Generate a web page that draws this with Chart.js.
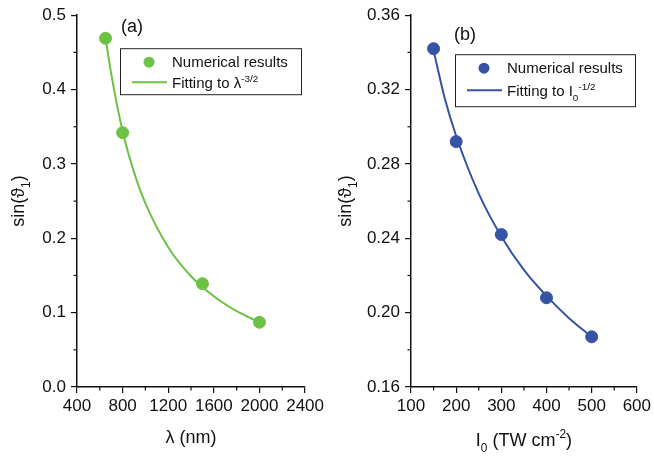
<!DOCTYPE html>
<html>
<head>
<meta charset="utf-8">
<script src="https://cdn.jsdelivr.net/npm/chart.js@4.4.1/dist/chart.umd.min.js"></script>
<style>
    body { margin: 0; background: #fff; }
    #wrap { position: relative; width: 654px; height: 459px; }
    canvas { position: absolute; top: 0; }
    #chartA { left: 0; }
    #chartB { left: 327px; }
</style>
</head>
<body>
<div id="wrap">
    <canvas id="chartA" width="327" height="459"></canvas>
    <canvas id="chartB" width="327" height="459"></canvas>
</div>
<script>
/**=================
 * Data
 =================*/
// panel (a): wavelength scan
const lambdaNm = [650, 800, 1500, 2000];
const sinThetaA = [0.469, 0.342, 0.139, 0.087];
const fitLambda = [650, 700, 800, 900, 1000, 1200, 1400, 1600, 1800, 2000];
const fitSinA = [0.470, 0.421, 0.344, 0.289, 0.247, 0.188, 0.149, 0.122, 0.102, 0.087];

// panel (b): intensity scan
const intensityTW = [150, 200, 300, 400, 500];
const sinThetaB = [0.342, 0.292, 0.242, 0.208, 0.187];
const fitIntensity = [150, 175, 200, 250, 300, 350, 400, 450, 500];
const fitSinB = [0.341, 0.315, 0.295, 0.264, 0.241, 0.223, 0.209, 0.197, 0.187];

const GREEN = '#6cc244';
const BLUE = '#3753a6';
const INK = '#111';
const FONT = '"Liberation Sans", Arial, "DejaVu Sans", sans-serif';

/**=================
 * Rich text helper (sub / superscripts)
 =================*/
function drawRich(ctx, parts, x, y, size, align) {
    const fontFor = mode => (mode ? size * 0.66 : size) + 'px ' + FONT;
    let total = 0;
    parts.forEach(([t, mode]) => {
        ctx.font = fontFor(mode);
        total += ctx.measureText(t).width;
    });
    let cx = align === 'center' ? x - total / 2 : x;
    ctx.textAlign = 'left';
    ctx.textBaseline = 'alphabetic';
    parts.forEach(([t, mode]) => {
        ctx.font = fontFor(mode);
        let dy = 0;
        if (mode === 'sub') dy = size * 0.32;
        if (mode === 'sup') dy = -size * 0.42;
        ctx.fillText(t, cx, y + dy);
        cx += ctx.measureText(t).width;
    });
}

/**=================
 * Decorations plugin: titles, panel label, legend box, minor ticks
 =================*/
const decorPlugin = {
    id: 'decor',
    afterDraw(chart, args, o) {
        const { ctx, chartArea: a, scales } = chart;
        ctx.save();
        ctx.fillStyle = INK;
        ctx.strokeStyle = INK;

        // minor ticks
        ctx.lineWidth = 1.2;
        const xs = scales.x, ys = scales.y;
        for (let i = 0; i < xs.ticks.length - 1; i++) {
            const px = xs.getPixelForValue((xs.ticks[i].value + xs.ticks[i + 1].value) / 2);
            ctx.beginPath();
            ctx.moveTo(px, xs.top);
            ctx.lineTo(px, xs.top + 3.5);
            ctx.stroke();
        }
        for (let i = 0; i < ys.ticks.length - 1; i++) {
            const py = ys.getPixelForValue((ys.ticks[i].value + ys.ticks[i + 1].value) / 2);
            ctx.beginPath();
            ctx.moveTo(ys.right, py);
            ctx.lineTo(ys.right - 3.5, py);
            ctx.stroke();
        }

        // panel label
        ctx.font = '18px ' + FONT;
        ctx.textAlign = 'left';
        ctx.textBaseline = 'alphabetic';
        ctx.fillText(o.panel, a.left + o.panelX, a.top + o.panelY);

        // axis titles
        drawRich(ctx, o.xTitle, (a.left + a.right) / 2, a.bottom + o.xTitleY, 18, 'center');
        ctx.save();
        ctx.translate(a.left - o.yTitleX, (a.top + a.bottom) / 2);
        ctx.rotate(-Math.PI / 2);
        drawRich(ctx, [['sin(\u03D1', ''], ['1', 'sub'], [')', '']], 0, 0, 18, 'center');
        ctx.restore();

        // legend box
        const bx = a.left + o.legX, by = a.top + o.legY;
        ctx.lineWidth = 1;
        ctx.strokeStyle = '#222';
        ctx.strokeRect(bx + 0.5, by + 0.5, o.legW, o.legH);
        ctx.fillStyle = o.color;
        ctx.beginPath();
        ctx.arc(bx + 29, by + 14, 5.5, 0, Math.PI * 2);
        ctx.fill();
        ctx.strokeStyle = o.color;
        ctx.lineWidth = 2;
        ctx.beginPath();
        ctx.moveTo(bx + 12, by + o.lineRowY);
        ctx.lineTo(bx + 47, by + o.lineRowY);
        ctx.stroke();
        ctx.fillStyle = INK;
        drawRich(ctx, [['Numerical results', '']], bx + 52, by + 19, 15, 'left');
        drawRich(ctx, o.fitLabel, bx + 52, by + o.lineRowY + 6, 15, 'left');

        ctx.restore();
    }
};

/**=================
 * Chart builder
 =================*/
function makeChart(id, cfg) {
    return new Chart(document.getElementById(id), {
        type: 'scatter',
        data: {
            datasets: [{
                label: 'Numerical results',
                data: cfg.px.map((x, i) => ({ x: x, y: cfg.py[i] })),
                backgroundColor: cfg.color,
                borderColor: cfg.color,
                pointRadius: 6,
                pointHoverRadius: 6
            }, {
                type: 'line',
                label: 'Fit',
                data: cfg.fx.map((x, i) => ({ x: x, y: cfg.fy[i] })),
                borderColor: cfg.color,
                borderWidth: 2,
                pointRadius: 0,
                fill: false,
                cubicInterpolationMode: 'monotone'
            }]
        },
        options: {
            responsive: false,
            animation: false,
            events: [],
            layout: { padding: { left: 0, right: cfg.padRight, top: 14, bottom: 0 } },
            scales: {
                x: {
                    type: 'linear',
                    min: cfg.xMin, max: cfg.xMax,
                    afterFit: s => { s.height = 72; },
                    border: { display: true, color: INK, width: 1.5 },
                    grid: { drawOnChartArea: false, drawTicks: true, tickLength: 6, color: INK, lineWidth: 1.2 },
                    ticks: {
                        stepSize: cfg.xStep, padding: 3, color: INK, maxRotation: 0,
                        font: { family: FONT, size: 17 },
                        callback: v => String(v)
                    }
                },
                y: {
                    min: cfg.yMin, max: cfg.yMax,
                    afterFit: s => { s.width = cfg.yWidth; },
                    border: { display: true, color: INK, width: 1.5 },
                    grid: { drawOnChartArea: false, drawTicks: true, tickLength: 6, color: INK, lineWidth: 1.2 },
                    ticks: {
                        stepSize: cfg.yStep, padding: 5, color: INK,
                        font: { family: FONT, size: 17 },
                        callback: v => v.toFixed(cfg.yDigits)
                    }
                }
            },
            plugins: {
                legend: { display: false },
                tooltip: { enabled: false },
                decor: cfg.decor
            }
        },
        plugins: [decorPlugin]
    });
}

makeChart('chartA', {
    px: lambdaNm, py: sinThetaA, fx: fitLambda, fy: fitSinA, color: GREEN,
    xMin: 400, xMax: 2400, xStep: 400,
    yMin: 0, yMax: 0.5, yStep: 0.1, yDigits: 1,
    yWidth: 77, padRight: 21,
    decor: {
        panel: '(a)', panelX: 44, panelY: 17, color: GREEN,
        xTitle: [['\u03BB (nm)', '']], xTitleY: 56, yTitleX: 53,
        legX: 43, legY: 33, legW: 181, legH: 46, lineRowY: 34,
        fitLabel: [['Fitting to \u03BB', ''], ['-3/2', 'sup']]
    }
});

makeChart('chartB', {
    px: intensityTW, py: sinThetaB, fx: fitIntensity, fy: fitSinB, color: BLUE,
    xMin: 100, xMax: 600, xStep: 100,
    yMin: 0.16, yMax: 0.36, yStep: 0.04, yDigits: 2,
    yWidth: 84, padRight: 14,
    decor: {
        panel: '(b)', panelX: 43, panelY: 25, color: BLUE,
        xTitle: [['I', ''], ['0', 'sub'], [' (TW cm', ''], ['-2', 'sup'], [')', '']], xTitleY: 59, yTitleX: 60,
        legX: 44, legY: 39, legW: 180, legH: 52, lineRowY: 36,
        fitLabel: [['Fitting to I', ''], ['0', 'sub'], ['-1/2', 'sup']]
    }
});
</script>
</body>
</html>
